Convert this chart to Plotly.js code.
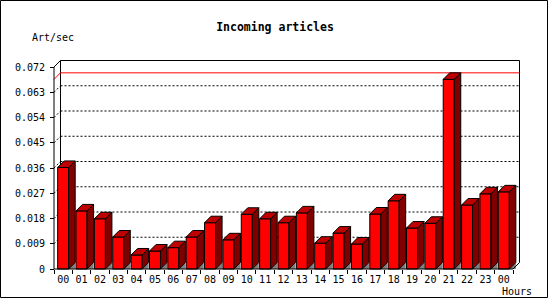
<!DOCTYPE html>
<html>
<head>
<meta charset="utf-8">
<script src="https://cdn.plot.ly/plotly-3.0.1.min.js"></script>
<style>html,body{margin:0;padding:0;background:#fff;}#chart{width:550px;height:300px;}</style>
</head>
<body>
<div id="chart"></div>
<script>
// ---- data ----
const hours = ['00','01','02','03','04','05','06','07','08','09','10','11','12','13','14','15','16','17','18','19','20','21','22','23','00'];
const rates = [0.0362,0.0207,0.0179,0.0114,0.0050,0.0064,0.0076,0.0114,0.0165,0.0104,0.0195,0.0179,0.0165,0.0200,0.0092,0.0128,0.0089,0.0196,0.0243,0.0146,0.0163,0.0676,0.0228,0.0268,0.0275];
const yTickVals = [0,0.009,0.018,0.027,0.036,0.045,0.054,0.063,0.072];
const yTickText = ['0','0.009','0.018','0.027','0.036','0.045','0.054','0.063','0.072'];
const chartTitle = 'Incoming articles';
const yLabel = 'Art/sec';
const xLabel = 'Hours';

// ---- geometry (pixels) ----
const W = 550, H = 300;
const mL = 50, mR = 26, mT = 57, mB = 27;
const paperW = W - mL - mR, paperH = H - mT - mB;
const axisX = 54, axisY = 269;          // front axis position (px)
const pxPerCat = 18.36;
const yTop = 0.072, yTopPx = 67;
const pxPerUnit = (axisY - yTopPx) / yTop;
const depth = 6.5;                        // 3d depth in px
const dx = depth / pxPerCat, dy = depth / pxPerUnit;
const barW = 0.6;
const pad = 2;
const sub = {x0: axisX - pad, x1: 522, y0: 59, y1: axisY + pad};
const px2x = p => -0.5 + (p - axisX) / pxPerCat;
const py2y = p => (axisY - p) / pxPerUnit;
const ppx = p => (p - mL) / paperW;
const ppy = p => (H - mB - p) / paperH;

const idx = hours.map((_, i) => i);
const nCat = hours.length;
const xL = -0.5, xR = nCat - 0.5;

// polygons
const sidePoly = {x: [], y: []}, topPoly = {x: [], y: []}, shadowPoly = {x: [], y: []};
idx.forEach(i => {
  const v = rates[i], l = i - barW / 2, r = i + barW / 2;
  sidePoly.x.push(r, r, r + dx, r + dx, r, null);
  sidePoly.y.push(0, v, v + dy, dy, 0, null);
  topPoly.x.push(l, r, r + dx, l + dx, l, null);
  topPoly.y.push(v, v, v + dy, v + dy, v, null);
  shadowPoly.x.push(r, r + dx, r + dx, r, null);
  shadowPoly.y.push(0, dy, 0, 0, null);
});

const traces = [
  {type: 'bar', x: idx, y: rates, width: barW, marker: {color: '#ff0000', line: {color: '#000', width: 1}}, hoverinfo: 'skip'},
  {type: 'scatter', mode: 'lines', x: shadowPoly.x, y: shadowPoly.y, fill: 'toself', fillcolor: '#808080', line: {width: 0, color: 'rgba(0,0,0,0)'}, hoverinfo: 'skip'},
  {type: 'scatter', mode: 'lines', x: sidePoly.x, y: sidePoly.y, fill: 'toself', fillcolor: '#800000', line: {width: 1, color: '#000'}, hoverinfo: 'skip'},
  {type: 'scatter', mode: 'lines', x: topPoly.x, y: topPoly.y, fill: 'toself', fillcolor: '#c00000', line: {width: 1, color: '#000'}, hoverinfo: 'skip'}
];

const shapes = [];
const seg = (x0, y0, x1, y1, color, dash, layer) => shapes.push({type: 'line', xref: 'x', yref: 'y', x0, y0, x1, y1, layer: layer || 'below', line: {color, width: 1, dash: dash || 'solid'}});
// back wall
seg(xL + dx, yTop + dy, xR + dx, yTop + dy, '#000');
seg(xL + dx, dy, xL + dx, yTop + dy, '#000');
seg(xR + dx, dy, xR + dx, yTop + dy, '#000');
// grid lines
yTickVals.forEach(v => {
  if (v === 0 || v === yTop) return;
  seg(xL, v, xL + dx, v + dy, '#000', '2px,2px');
  seg(xL + dx, v + dy, xR + dx, v + dy, '#000', '2px,2px');
});
// max line
const vmax = Math.max(...rates);
seg(xL, vmax, xL + dx, vmax + dy, '#ff0000');
seg(xL + dx, vmax + dy, xR + dx, vmax + dy, '#ff0000');
// front axes
seg(xL, 0, xL, yTop, '#000', 'solid', 'above');
seg(xL, yTop, xL + dx, yTop + dy, '#000', 'solid', 'above');
seg(xL, 0, xR, 0, '#000', 'solid', 'above');
seg(xR, 0, xR + dx, dy, '#000', 'solid', 'above');
// outer frame
shapes.push({type: 'rect', xref: 'paper', yref: 'paper', x0: ppx(0.5), x1: ppx(547.5), y0: ppy(297.5), y1: ppy(0.5), line: {color: '#000', width: 1}, layer: 'above'});

const font = 'DejaVu Sans Mono';
const layout = {
  width: W, height: H,
  margin: {l: mL, r: mR, t: mT, b: mB, pad: 0},
  paper_bgcolor: '#fff', plot_bgcolor: 'rgba(0,0,0,0)',
  showlegend: false,
  font: {family: font, size: 10, color: '#000'},
  title: {text: '<b>' + chartTitle + '</b>', font: {family: font, size: 11.5, color: '#000'}, x: 0.5, xref: 'container', xanchor: 'center', y: 1 - 27 / H, yref: 'container', yanchor: 'middle'},
  xaxis: {
    domain: [ppx(sub.x0), ppx(sub.x1)],
    range: [px2x(sub.x0), px2x(sub.x1)],
    anchor: 'free', position: ppy(axisY),
    tickmode: 'array', tickvals: idx, ticktext: hours,
    ticks: 'outside', ticklen: 1, tickcolor: 'rgba(0,0,0,0)',
    minor: {tickmode: 'array', tickvals: [...idx.map(i => i - 0.5), xR], ticks: 'outside', ticklen: 4, tickwidth: 1, tickcolor: '#000', showgrid: false},
    showgrid: false, zeroline: false, showline: false, fixedrange: true,
    tickfont: {family: font, size: 10, color: '#000'}
  },
  yaxis: {
    domain: [ppy(sub.y1), ppy(sub.y0)],
    range: [py2y(sub.y1), py2y(sub.y0)],
    anchor: 'free', position: ppx(axisX),
    tickmode: 'array', tickvals: yTickVals, ticktext: yTickText,
    ticks: 'outside', ticklen: 4, tickwidth: 1, tickcolor: '#000',
    ticklabelstandoff: 3,
    showgrid: false, zeroline: false, showline: false, fixedrange: true,
    tickfont: {family: font, size: 10, color: '#000'}
  },
  shapes: shapes,
  annotations: [
    {text: yLabel, xref: 'paper', yref: 'paper', x: ppx(30), y: ppy(37), xanchor: 'left', yanchor: 'middle', showarrow: false, font: {family: font, size: 10, color: '#000'}},
    {text: xLabel, xref: 'paper', yref: 'paper', x: ppx(534), y: ppy(291), xanchor: 'right', yanchor: 'middle', showarrow: false, font: {family: font, size: 10, color: '#000'}}
  ]
};

Plotly.newPlot('chart', traces, layout, {staticPlot: true, displayModeBar: false});
</script>
</body>
</html>
